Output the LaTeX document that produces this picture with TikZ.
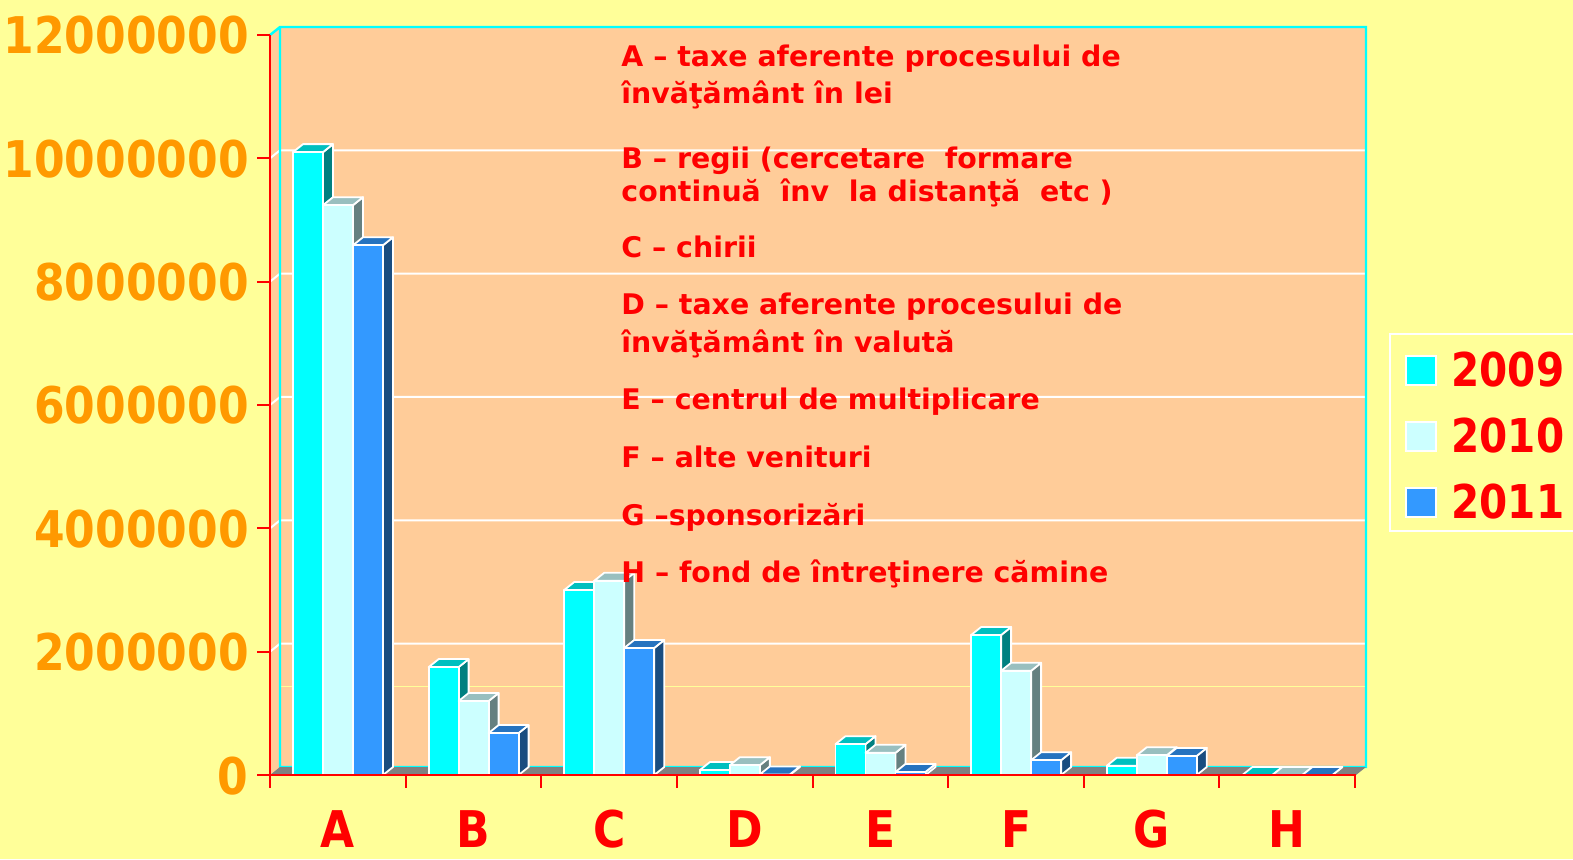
\documentclass[tikz,border=0pt]{standalone}
\usepackage{fontspec}
\setmainfont[FakeStretch=0.87]{DejaVu Sans}
\newfontfamily\notefont{DejaVu Sans}
\definecolor{slide}{HTML}{FFFF99}
\definecolor{wall}{HTML}{FFCC99}
\definecolor{floorgray}{HTML}{808080}
\definecolor{ticklbl}{HTML}{FF9900}
\definecolor{c09}{HTML}{00FFFF}
\definecolor{c09top}{HTML}{00BFBF}
\definecolor{c09side}{HTML}{008080}
\definecolor{c10}{HTML}{CCFFFF}
\definecolor{c10top}{HTML}{99BFBF}
\definecolor{c10side}{HTML}{668080}
\definecolor{c11}{HTML}{3399FF}
\definecolor{c11top}{HTML}{2673BF}
\definecolor{c11side}{HTML}{1A4D80}
\begin{document}
\begin{tikzpicture}[x=0.5pt,y=-0.5pt]
    \tikzset{face/.style={draw=white, line width=0.9pt, line join=round},
        axisline/.style={draw=red, line width=1pt},
        ylbl/.style={text=ticklbl, anchor=base east, inner sep=0pt,
            font=\bfseries\fontsize{25.3}{26}\selectfont},
        catlbl/.style={text=red, anchor=base, inner sep=0pt,
            font=\bfseries\fontsize{25.3}{26}\selectfont},
        note/.style={text=red, anchor=base west, inner sep=0pt,
            font=\notefont\bfseries\fontsize{14.2}{17}\selectfont},
        yearlbl/.style={text=red, anchor=base west, inner sep=0pt,
            font=\bfseries\fontsize{23.3}{24}\selectfont}}
    \fill[slide] (0,0) rectangle (1573,859);
    \useasboundingbox (0,0) rectangle (1573,859);

    %Waende
    \fill[wall] (270,35) -- (280,27) -- (280,767) -- (270,775) -- cycle;
    \fill[wall] (280,27) rectangle (1366,767);
    \foreach \v in {2,4,...,10}
        \draw[white, line width=1pt] (270,775-61.67*\v) -- (280,767-61.67*\v) -- (1366,767-61.67*\v);
    \draw[slide, line width=0.5pt] (280,686) -- (1366,686);
    \draw[c09, line width=1.2pt] (270,35) -- (280,27) -- (1366,27) -- (1366,767) -- (280,767) -- (280,27);
    \fill[floorgray] (270,775) -- (280,767) -- (1366,767) -- (1356,775) -- cycle;

    %Saeulen
    \foreach \va/\vb/\vc [count=\i from 0] in {10.10/9.24/8.59, 1.75/1.20/0.68,
        3.00/3.15/2.06, 0.08/0.16/0.01, 0.50/0.36/0.05, 2.27/1.69/0.24,
        0.15/0.32/0.31, 0/0/0}{
        \foreach \v/\front/\topc/\sidec [count=\k from 0] in
            {\va/c09/c09top/c09side, \vb/c10/c10top/c10side, \vc/c11/c11top/c11side}{
            \pgfmathsetmacro\xl{293+135.625*\i+30*\k}
            \pgfmathsetmacro\yt{775-61.67*\v}
            \filldraw[face, fill=\sidec] (\xl+30,775) -- (\xl+30,\yt) -- (\xl+40,\yt-8) -- (\xl+40,767) -- cycle;
            \filldraw[face, fill=\topc] (\xl,\yt) -- (\xl+10,\yt-8) -- (\xl+40,\yt-8) -- (\xl+30,\yt) -- cycle;
            \filldraw[face, fill=\front] (\xl,775) rectangle (\xl+30,\yt);
        }
    }

    %Achsen
    \draw[axisline] (270,35) -- (270,788);
    \draw[axisline] (257,775) -- (1356,775);
    \foreach \v/\txt [count=\j] in {0/0, 2/2000000, 4/4000000, 6/6000000,
        8/8000000, 10/10000000, 12/12000000}{
        \draw[axisline] (257,775-61.67*\v) -- (270,775-61.67*\v);
        \node[ylbl] (y\j) at (249,794-61.67*\v) {\txt};
    }
    \foreach \c [count=\i from 0] in {A,B,C,D,E,F,G,H}{
        \draw[axisline] (270+135.625*\i+135.625,775) -- (270+135.625*\i+135.625,788);
        \node[catlbl] (cat\c) at (338+135.625*\i,847) {\c};
    }

    %Erklaerung
    \foreach \y/\txt [count=\n] in {66/A – taxe aferente procesului de,
        103/învăţământ în lei,
        168/B – regii (cercetare\ \ formare,
        201/continuă\ \ înv\ \ la distanţă\ \ etc ),
        257/C – chirii,
        314/D – taxe aferente procesului de,
        352/învăţământ în valută,
        409/E – centrul de multiplicare,
        467/F – alte venituri,
        525/G –sponsorizări,
        582/H – fond de întreţinere cămine}
        \node[note] (note\n) at (621,\y) {\txt};

    %Legende
    \draw[white, line width=1pt] (1390,334) rectangle (1590,531);
    \foreach \yr/\col/\y in {2009/c09/356, 2010/c10/422, 2011/c11/488}{
        \filldraw[fill=\col, draw=white, line width=0.8pt] (1406,\y) rectangle (1436,\y+29);
        \node[yearlbl] (leg\yr) at (1451,\y+30) {\yr};
    }
\end{tikzpicture}
\end{document}
